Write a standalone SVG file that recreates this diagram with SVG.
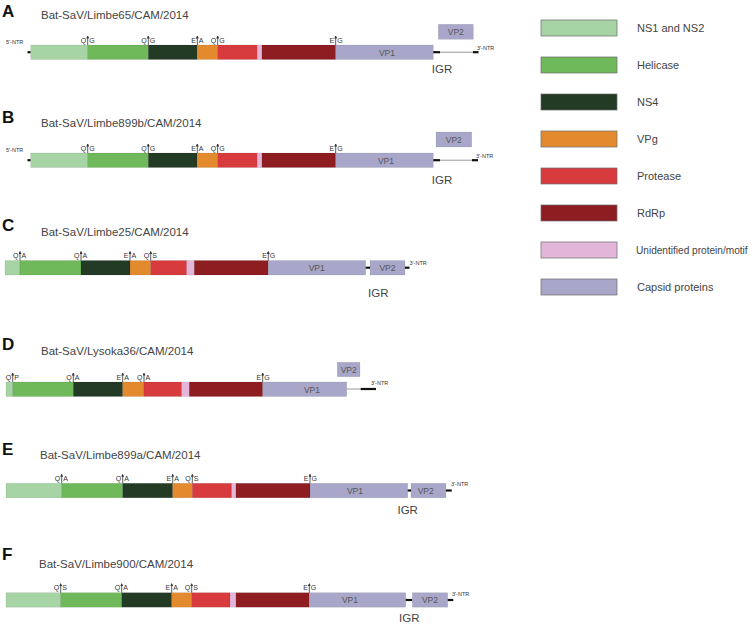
<svg xmlns="http://www.w3.org/2000/svg" width="754" height="629" viewBox="0 0 754 629">
<defs>
<style>
.ns1{fill:#a6d4a4}.hel{fill:#6fb95a}.ns4{fill:#233a25}.vpg{fill:#e38a2e}.pro{fill:#d83b3e}.pink{fill:#e3b5d9}.rdrp{fill:#8e1d22}.cap{fill:#a8a7ca}
.seg{stroke:#000;stroke-opacity:0.12;stroke-width:0.6}
.leg{stroke:#6a6a6a;stroke-width:0.7}
.pl{font-family:"Liberation Sans",Arial,sans-serif;font-weight:bold;font-size:17px;fill:#111}
.tt{font-family:"Liberation Sans",Arial,sans-serif;font-size:11.5px;fill:#444}
.cl{font-family:"Liberation Sans",Arial,sans-serif;font-size:7px;fill:#333}
.ntr{font-family:"Liberation Sans",Arial,sans-serif;font-size:5.5px;fill:#333}
.vp{font-family:"Liberation Sans",Arial,sans-serif;font-size:8.5px;fill:#555;text-anchor:middle}
.igr{font-family:"Liberation Sans",Arial,sans-serif;font-size:11.5px;fill:#444;text-anchor:middle}
.lt{font-family:"Liberation Sans",Arial,sans-serif;font-size:11px;fill:#444}
.lts{font-family:"Liberation Sans",Arial,sans-serif;font-size:10.1px;fill:#444}
.ck{stroke:#333;stroke-width:0.8;fill:none}
.thick{stroke:#111;stroke-width:2.2}
.thin{stroke:#999;stroke-width:1}
.end{text-anchor:end}
</style>
<marker id="ah" viewBox="0 0 6 6" refX="5" refY="3" markerWidth="3" markerHeight="3" orient="auto" markerUnits="userSpaceOnUse">
<path d="M0,0 L6,3 L0,6 Z" fill="#333"/>
</marker>
</defs>
<rect width="754" height="629" fill="#fff"/>

<!-- Panel A -->
<g id="panelA">
<text class="pl" x="2" y="17">A</text>
<text class="tt" x="41" y="19">Bat-SaV/Limbe65/CAM/2014</text>
<text class="ntr" x="6" y="44">5'-NTR</text>
<line class="thick" x1="27.5" y1="52.2" x2="30.7" y2="52.2"/>
<rect class="ns1 seg" x="30.7" y="45" width="57" height="14.5"/>
<rect class="hel seg" x="87.7" y="45" width="60.6" height="14.5"/>
<rect class="ns4 seg" x="148.3" y="45" width="49" height="14.5"/>
<rect class="vpg seg" x="197.3" y="45" width="20.4" height="14.5"/>
<rect class="pro seg" x="217.7" y="45" width="39.6" height="14.5"/>
<rect class="pink seg" x="257.3" y="45" width="4.7" height="14.5"/>
<rect class="rdrp seg" x="262" y="45" width="73.7" height="14.5"/>
<rect class="cap seg" x="335.7" y="45" width="97.6" height="14.5"/>
<text class="vp" x="387" y="55.5">VP1</text>
<line class="thin" x1="433.3" y1="52.2" x2="476" y2="52.2"/>
<line class="thick" x1="433.3" y1="52.2" x2="440" y2="52.2"/>
<line class="thick" x1="473" y1="52.2" x2="478.5" y2="52.2"/>
<text class="ntr" x="477" y="50">3'-NTR</text>
<rect class="cap seg" x="438.3" y="24.3" width="35" height="15"/>
<text class="vp" x="455.8" y="35">VP2</text>
<text class="igr" x="442" y="73">IGR</text>
<g class="cleav">
<line class="ck" x1="87.7" y1="45" x2="87.7" y2="36" marker-end="url(#ah)"/><text class="cl end" x="86.2" y="42.5">Q</text><text class="cl" x="89.2" y="42.5">G</text>
<line class="ck" x1="148.3" y1="45" x2="148.3" y2="36" marker-end="url(#ah)"/><text class="cl end" x="146.8" y="42.5">Q</text><text class="cl" x="149.8" y="42.5">G</text>
<line class="ck" x1="197.3" y1="45" x2="197.3" y2="36" marker-end="url(#ah)"/><text class="cl end" x="195.8" y="42.5">E</text><text class="cl" x="198.8" y="42.5">A</text>
<line class="ck" x1="217.7" y1="45" x2="217.7" y2="36" marker-end="url(#ah)"/><text class="cl end" x="216.2" y="42.5">Q</text><text class="cl" x="219.2" y="42.5">G</text>
<line class="ck" x1="335.7" y1="45" x2="335.7" y2="36" marker-end="url(#ah)"/><text class="cl end" x="334.2" y="42.5">E</text><text class="cl" x="337.2" y="42.5">G</text>
</g>
</g>

<!-- Panel B -->
<g id="panelB">
<text class="pl" x="2" y="123">B</text>
<text class="tt" x="41" y="127">Bat-SaV/Limbe899b/CAM/2014</text>
<text class="ntr" x="6" y="152">5'-NTR</text>
<line class="thick" x1="27.5" y1="160.2" x2="30.7" y2="160.2"/>
<rect class="ns1 seg" x="30.7" y="153" width="57" height="14.5"/>
<rect class="hel seg" x="87.7" y="153" width="60.6" height="14.5"/>
<rect class="ns4 seg" x="148.3" y="153" width="49" height="14.5"/>
<rect class="vpg seg" x="197.3" y="153" width="20.4" height="14.5"/>
<rect class="pro seg" x="217.7" y="153" width="39.6" height="14.5"/>
<rect class="pink seg" x="257.3" y="153" width="4.7" height="14.5"/>
<rect class="rdrp seg" x="262" y="153" width="73.7" height="14.5"/>
<rect class="cap seg" x="335.7" y="153" width="97.6" height="14.5"/>
<text class="vp" x="386" y="163.5">VP1</text>
<line class="thin" x1="433.3" y1="160.2" x2="476" y2="160.2"/>
<line class="thick" x1="433.3" y1="160.2" x2="440" y2="160.2"/>
<line class="thick" x1="472" y1="160.2" x2="478" y2="160.2"/>
<text class="ntr" x="476" y="158">3'-NTR</text>
<rect class="cap seg" x="436" y="132" width="35.7" height="15"/>
<text class="vp" x="453.8" y="142.7">VP2</text>
<text class="igr" x="442" y="184">IGR</text>
<g class="cleav">
<line class="ck" x1="87.7" y1="153" x2="87.7" y2="144" marker-end="url(#ah)"/><text class="cl end" x="86.2" y="150.5">Q</text><text class="cl" x="89.2" y="150.5">G</text>
<line class="ck" x1="148.3" y1="153" x2="148.3" y2="144" marker-end="url(#ah)"/><text class="cl end" x="146.8" y="150.5">Q</text><text class="cl" x="149.8" y="150.5">G</text>
<line class="ck" x1="197.3" y1="153" x2="197.3" y2="144" marker-end="url(#ah)"/><text class="cl end" x="195.8" y="150.5">E</text><text class="cl" x="198.8" y="150.5">A</text>
<line class="ck" x1="217.7" y1="153" x2="217.7" y2="144" marker-end="url(#ah)"/><text class="cl end" x="216.2" y="150.5">Q</text><text class="cl" x="219.2" y="150.5">G</text>
<line class="ck" x1="335.7" y1="153" x2="335.7" y2="144" marker-end="url(#ah)"/><text class="cl end" x="334.2" y="150.5">E</text><text class="cl" x="337.2" y="150.5">G</text>
</g>
</g>

<!-- Panel C -->
<g id="panelC">
<text class="pl" x="2" y="231">C</text>
<text class="tt" x="41" y="236">Bat-SaV/Limbe25/CAM/2014</text>
<rect class="ns1 seg" x="5" y="260.5" width="15" height="14.5"/>
<rect class="hel seg" x="20" y="260.5" width="61" height="14.5"/>
<rect class="ns4 seg" x="81" y="260.5" width="49" height="14.5"/>
<rect class="vpg seg" x="130" y="260.5" width="20.7" height="14.5"/>
<rect class="pro seg" x="150.7" y="260.5" width="36" height="14.5"/>
<rect class="pink seg" x="186.7" y="260.5" width="7.6" height="14.5"/>
<rect class="rdrp seg" x="194.3" y="260.5" width="74" height="14.5"/>
<rect class="cap seg" x="268.3" y="260.5" width="97.4" height="14.5"/>
<text class="vp" x="316.7" y="271">VP1</text>
<line class="thick" x1="365.7" y1="267.7" x2="370" y2="267.7"/>
<rect class="cap seg" x="370" y="260.5" width="35" height="14.5"/>
<text class="vp" x="387.5" y="271">VP2</text>
<line class="thick" x1="405" y1="267.7" x2="409.5" y2="267.7"/>
<text class="ntr" x="409.5" y="264.5">3'-NTR</text>
<text class="igr" x="378.3" y="296.5">IGR</text>
<g class="cleav">
<line class="ck" x1="20" y1="260.5" x2="20" y2="251.5" marker-end="url(#ah)"/><text class="cl end" x="18.5" y="258">Q</text><text class="cl" x="21.5" y="258">A</text>
<line class="ck" x1="81" y1="260.5" x2="81" y2="251.5" marker-end="url(#ah)"/><text class="cl end" x="79.5" y="258">Q</text><text class="cl" x="82.5" y="258">A</text>
<line class="ck" x1="130" y1="260.5" x2="130" y2="251.5" marker-end="url(#ah)"/><text class="cl end" x="128.5" y="258">E</text><text class="cl" x="131.5" y="258">A</text>
<line class="ck" x1="150.7" y1="260.5" x2="150.7" y2="251.5" marker-end="url(#ah)"/><text class="cl end" x="149.2" y="258">Q</text><text class="cl" x="152.2" y="258">S</text>
<line class="ck" x1="268.3" y1="260.5" x2="268.3" y2="251.5" marker-end="url(#ah)"/><text class="cl end" x="266.8" y="258">E</text><text class="cl" x="269.8" y="258">G</text>
</g>
</g>

<!-- Panel D -->
<g id="panelD">
<text class="pl" x="2" y="350">D</text>
<text class="tt" x="41" y="355">Bat-SaV/Lysoka36/CAM/2014</text>
<rect class="ns1 seg" x="6" y="382" width="6.7" height="14.5"/>
<rect class="hel seg" x="12.7" y="382" width="60.6" height="14.5"/>
<rect class="ns4 seg" x="73.3" y="382" width="49.4" height="14.5"/>
<rect class="vpg seg" x="122.7" y="382" width="21.3" height="14.5"/>
<rect class="pro seg" x="144" y="382" width="37.7" height="14.5"/>
<rect class="pink seg" x="181.7" y="382" width="7.6" height="14.5"/>
<rect class="rdrp seg" x="189.3" y="382" width="73.4" height="14.5"/>
<rect class="cap seg" x="262.7" y="382" width="84" height="14.5"/>
<text class="vp" x="312" y="392.5">VP1</text>
<line class="thin" x1="346.7" y1="389" x2="361" y2="389"/>
<line class="thick" x1="360.7" y1="389" x2="376" y2="389"/>
<text class="ntr" x="371" y="385">3'-NTR</text>
<rect class="cap seg" x="337.3" y="362.3" width="22.7" height="14.4"/>
<text class="vp" x="348.7" y="372.8">VP2</text>
<g class="cleav">
<line class="ck" x1="12.7" y1="382" x2="12.7" y2="373" marker-end="url(#ah)"/><text class="cl end" x="11.2" y="379.5">Q</text><text class="cl" x="14.2" y="379.5">P</text>
<line class="ck" x1="73.3" y1="382" x2="73.3" y2="373" marker-end="url(#ah)"/><text class="cl end" x="71.8" y="379.5">Q</text><text class="cl" x="74.8" y="379.5">A</text>
<line class="ck" x1="122.7" y1="382" x2="122.7" y2="373" marker-end="url(#ah)"/><text class="cl end" x="121.2" y="379.5">E</text><text class="cl" x="124.2" y="379.5">A</text>
<line class="ck" x1="144" y1="382" x2="144" y2="373" marker-end="url(#ah)"/><text class="cl end" x="142.5" y="379.5">Q</text><text class="cl" x="145.5" y="379.5">A</text>
<line class="ck" x1="262.7" y1="382" x2="262.7" y2="373" marker-end="url(#ah)"/><text class="cl end" x="261.2" y="379.5">E</text><text class="cl" x="264.2" y="379.5">G</text>
</g>
</g>

<!-- Panel E -->
<g id="panelE">
<text class="pl" x="2" y="455">E</text>
<text class="tt" x="40" y="459">Bat-SaV/Limbe899a/CAM/2014</text>
<rect class="ns1 seg" x="6" y="483.3" width="55.7" height="14.5"/>
<rect class="hel seg" x="61.7" y="483.3" width="61" height="14.5"/>
<rect class="ns4 seg" x="122.7" y="483.3" width="50" height="14.5"/>
<rect class="vpg seg" x="172.7" y="483.3" width="19.6" height="14.5"/>
<rect class="pro seg" x="192.3" y="483.3" width="39.4" height="14.5"/>
<rect class="pink seg" x="231.7" y="483.3" width="4.3" height="14.5"/>
<rect class="rdrp seg" x="236" y="483.3" width="74" height="14.5"/>
<rect class="cap seg" x="310" y="483.3" width="97.7" height="14.5"/>
<text class="vp" x="355" y="493.8">VP1</text>
<line class="thick" x1="407.7" y1="490.5" x2="411" y2="490.5"/>
<rect class="cap seg" x="411" y="483.3" width="35" height="14.5"/>
<text class="vp" x="425.7" y="493.8">VP2</text>
<line class="thick" x1="446" y1="490.5" x2="451.7" y2="490.5"/>
<text class="ntr" x="451" y="486">3'-NTR</text>
<text class="igr" x="407.7" y="514">IGR</text>
<g class="cleav">
<line class="ck" x1="61.7" y1="483.3" x2="61.7" y2="474.3" marker-end="url(#ah)"/><text class="cl end" x="60.2" y="480.8">Q</text><text class="cl" x="63.2" y="480.8">A</text>
<line class="ck" x1="122.7" y1="483.3" x2="122.7" y2="474.3" marker-end="url(#ah)"/><text class="cl end" x="121.2" y="480.8">Q</text><text class="cl" x="124.2" y="480.8">A</text>
<line class="ck" x1="172.7" y1="483.3" x2="172.7" y2="474.3" marker-end="url(#ah)"/><text class="cl end" x="171.2" y="480.8">E</text><text class="cl" x="174.2" y="480.8">A</text>
<line class="ck" x1="192.3" y1="483.3" x2="192.3" y2="474.3" marker-end="url(#ah)"/><text class="cl end" x="190.8" y="480.8">Q</text><text class="cl" x="193.8" y="480.8">S</text>
<line class="ck" x1="310" y1="483.3" x2="310" y2="474.3" marker-end="url(#ah)"/><text class="cl end" x="308.5" y="480.8">E</text><text class="cl" x="311.5" y="480.8">G</text>
</g>
</g>

<!-- Panel F -->
<g id="panelF">
<text class="pl" x="2" y="560">F</text>
<text class="tt" x="39" y="568">Bat-SaV/Limbe900/CAM/2014</text>
<rect class="ns1 seg" x="6" y="592.7" width="54.7" height="14.5"/>
<rect class="hel seg" x="60.7" y="592.7" width="61" height="14.5"/>
<rect class="ns4 seg" x="121.7" y="592.7" width="50" height="14.5"/>
<rect class="vpg seg" x="171.7" y="592.7" width="20" height="14.5"/>
<rect class="pro seg" x="191.7" y="592.7" width="38.3" height="14.5"/>
<rect class="pink seg" x="230" y="592.7" width="6" height="14.5"/>
<rect class="rdrp seg" x="236" y="592.7" width="73.3" height="14.5"/>
<rect class="cap seg" x="309.3" y="592.7" width="96.4" height="14.5"/>
<text class="vp" x="350" y="603.2">VP1</text>
<line class="thick" x1="405.7" y1="600" x2="412.3" y2="600"/>
<rect class="cap seg" x="412.3" y="592.7" width="35.4" height="14.5"/>
<text class="vp" x="430" y="603.2">VP2</text>
<line class="thick" x1="447.7" y1="600" x2="453.3" y2="600"/>
<text class="ntr" x="452" y="596">3'-NTR</text>
<text class="igr" x="409.3" y="622">IGR</text>
<g class="cleav">
<line class="ck" x1="60.7" y1="592.7" x2="60.7" y2="583.7" marker-end="url(#ah)"/><text class="cl end" x="59.2" y="590.2">Q</text><text class="cl" x="62.2" y="590.2">S</text>
<line class="ck" x1="121.7" y1="592.7" x2="121.7" y2="583.7" marker-end="url(#ah)"/><text class="cl end" x="120.2" y="590.2">Q</text><text class="cl" x="123.2" y="590.2">A</text>
<line class="ck" x1="171.7" y1="592.7" x2="171.7" y2="583.7" marker-end="url(#ah)"/><text class="cl end" x="170.2" y="590.2">E</text><text class="cl" x="173.2" y="590.2">A</text>
<line class="ck" x1="191.7" y1="592.7" x2="191.7" y2="583.7" marker-end="url(#ah)"/><text class="cl end" x="190.2" y="590.2">Q</text><text class="cl" x="193.2" y="590.2">S</text>
<line class="ck" x1="309.3" y1="592.7" x2="309.3" y2="583.7" marker-end="url(#ah)"/><text class="cl end" x="307.8" y="590.2">E</text><text class="cl" x="310.8" y="590.2">G</text>
</g>
</g>

<!-- Legend -->
<g id="legend">
<g id="leg-ns1"><rect class="ns1 leg" x="541" y="20" width="76" height="16"/><text class="lt" x="637" y="32">NS1 and NS2</text></g>
<g id="leg-hel"><rect class="hel leg" x="541" y="57" width="76" height="16"/><text class="lt" x="637" y="69">Helicase</text></g>
<g id="leg-ns4"><rect class="ns4 leg" x="541" y="94" width="76" height="16"/><text class="lt" x="637" y="106">NS4</text></g>
<g id="leg-vpg"><rect class="vpg leg" x="541" y="131" width="76" height="16"/><text class="lt" x="637" y="143">VPg</text></g>
<g id="leg-pro"><rect class="pro leg" x="541" y="168" width="76" height="16"/><text class="lt" x="637" y="180">Protease</text></g>
<g id="leg-rdrp"><rect class="rdrp leg" x="541" y="205" width="76" height="16"/><text class="lt" x="637" y="217">RdRp</text></g>
<g id="leg-pink"><rect class="pink leg" x="541" y="242" width="76" height="16"/><text class="lts" x="636" y="254">Unidentified protein/motif</text></g>
<g id="leg-cap"><rect class="cap leg" x="541" y="279" width="76" height="16"/><text class="lt" x="637" y="291">Capsid proteins</text></g>
</g>
</svg>
